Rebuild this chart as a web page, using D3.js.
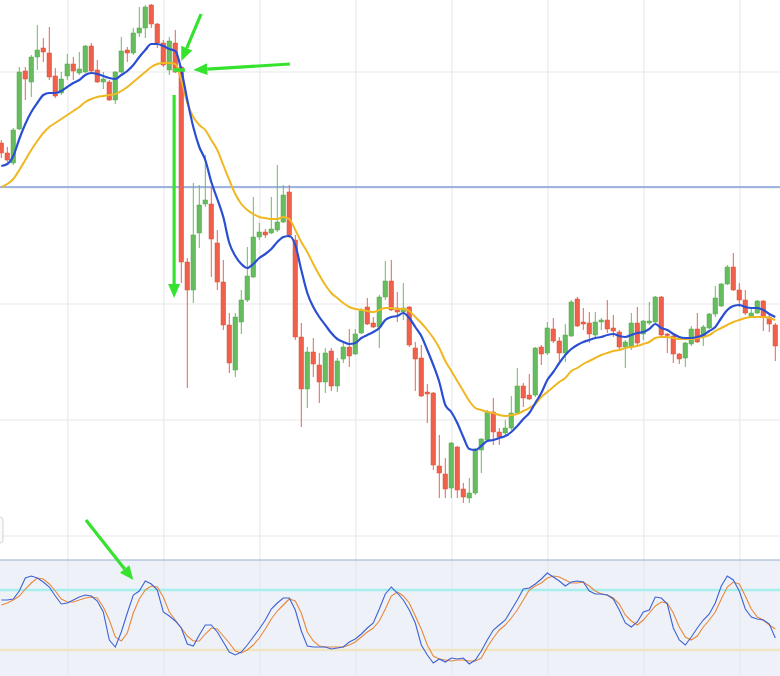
<!DOCTYPE html>
<html>
<head>
<meta charset="utf-8">
<title>Candles with moving averages and stochastic</title>
<script src="https://d3js.org/d3.v7.min.js"></script>
<style>
  body { margin: 0; background: #fff; }
  svg { display: block; }
</style>
</head>
<body>
<div id="chart"></div>
<script>
// price data, one entry per candle
const opens = [457,447,437,471,529,518,543,552,547,524,
  507,524,536,527,528,554,530,518,518,500,
  528,550,547,567,572,595,576,557,530,557,
  533,338,310,367,396,396,357,318,275,230,
  278,300,323,363,368,367,370,378,408,360,
  263,211,248,235,218,249,214,241,253,246,
  267,293,277,273,303,319,292,288,293,252,
  242,208,207,134,126,112,153,111,102,107,
  150,160,188,168,167,172,187,214,205,205,
  253,247,271,259,247,264,301,278,277,265,
  278,280,272,268,253,253,277,266,277,278,
  303,266,264,246,242,256,271,263,272,286,
  294,316,333,310,300,284,287,299,283,275];
const closes = [447,440,470,528,521,543,550,548,523,504,
  521,536,529,531,554,529,518,521,500,528,
  549,547,567,572,593,576,557,535,559,528,
  338,310,365,395,400,361,318,275,237,283,
  300,324,363,368,365,371,378,405,365,263,
  211,248,236,218,247,214,239,253,244,266,
  289,276,273,303,319,290,288,292,255,241,
  204,206,135,127,111,157,110,103,107,151,
  161,188,168,163,172,187,214,202,201,252,
  246,272,259,247,265,298,274,276,266,278,
  280,271,269,253,258,277,257,279,279,303,
  265,265,246,241,257,271,258,273,286,302,
  316,333,310,300,287,287,299,283,276,254];
const highs = [460,453,472,533,533,545,575,562,573,532,
  528,546,543,548,555,557,540,528,520,529,
  563,553,572,593,595,596,577,560,563,570,
  534,342,417,415,445,413,370,340,287,287,
  310,353,403,377,371,403,435,415,415,365,
  277,253,262,247,252,252,242,257,271,271,
  292,302,283,305,339,340,308,317,294,258,
  255,216,208,165,142,158,154,117,122,152,
  162,190,202,172,180,204,232,217,226,253,
  255,278,282,263,276,300,303,292,288,288,
  282,300,285,270,260,287,293,280,298,304,
  304,267,265,247,258,274,287,275,287,314,
  317,335,347,317,310,292,300,300,285,277];
const lows = [442,438,435,470,500,503,530,538,520,502,
  505,520,520,525,527,528,517,511,499,496,
  527,538,545,563,562,572,552,533,525,527,
  317,212,297,352,393,323,310,270,227,223,
  266,298,322,360,362,366,368,377,362,260,
  173,192,223,197,207,209,208,237,233,245,
  266,275,272,252,300,289,278,280,253,209,
  203,177,130,102,102,102,102,97,97,105,
  127,158,155,155,165,170,185,193,200,203,
  235,245,257,239,238,263,273,270,257,263,
  270,267,263,250,232,250,254,260,275,277,
  263,247,237,236,233,254,257,254,271,283,
  293,315,309,293,285,282,286,269,268,239];

// moving averages
const maFast = [434,436,444,461,476,488,497,505,507,507,
  509,513,517,520,525,527,526,524,522,521,
  525,529,535,543,550,556,556,554,551,549,
  530,500,473,453,440,418,401,383,357,344,
  336,332,336,342,346,351,358,363,364,355,
  330,307,293,283,275,267,261,258,256,257,
  262,265,268,272,280,283,284,287,282,273,
  264,250,235,218,195,188,177,163,151,150,
  154,159,160,162,164,168,174,181,187,197,
  207,220,228,237,245,251,255,258,260,262,
  263,265,266,264,263,265,267,268,271,276,
  272,270,266,263,262,262,263,265,269,273,
  282,290,294,295,293,292,292,290,286,283];
const maSlow = [413,416,421,430,440,450,459,467,473,477,
  481,485,489,493,498,501,503,504,505,506,
  509,513,518,523,528,533,536,537,537,536,
  520,497,483,475,470,460,450,435,420,406,
  396,390,386,383,382,381,381,383,381,370,
  358,348,336,325,315,307,302,297,293,291,
  290,289,288,290,292,292,291,291,289,283,
  277,270,262,252,239,229,219,209,199,192,
  190,188,187,185,184,185,186,189,192,196,
  203,208,213,218,222,229,232,236,239,242,
  245,247,249,250,252,253,254,256,258,262,
  263,263,262,261,261,261,262,263,265,269,
  272,275,278,280,282,283,283,283,282,280];

// stochastic oscillator %K and %D
const stochK = [70,70,71,79,92,94,92,88,83,74,
  66,67,70,73,75,74,69,58,30,23,
  38,57,75,79,89,86,80,58,54,49,
  42,26,24,35,45,45,38,28,18,15,
  18,25,33,41,50,61,67,72,72,60,
  39,24,23,23,23,21,22,23,28,31,
  36,42,47,61,76,83,77,70,60,47,
  25,15,7,11,8,12,11,12,6,10,
  19,30,40,45,50,60,70,81,82,86,
  91,97,93,89,84,88,89,88,79,76,
  76,75,71,60,47,43,48,58,60,73,
  72,66,42,30,25,33,42,50,56,67,
  84,94,90,79,61,53,51,50,46,32];
const stochD = [65,67,70,74,81,87,92,91,86,79,
  71,68,68,70,72,73,72,63,50,33,
  29,37,57,71,80,84,83,73,58,50,
  42,34,29,29,36,42,41,34,27,19,
  17,20,25,32,41,51,59,65,71,69,
  57,38,29,24,23,23,23,23,25,28,
  33,38,42,49,61,74,78,74,67,54,
  41,25,14,11,10,9,10,10,9,9,
  12,23,32,40,45,52,60,70,80,84,
  87,92,94,93,90,87,87,88,84,79,
  76,75,72,66,55,49,45,50,57,64,
  68,67,57,43,33,30,34,43,50,58,
  71,83,88,86,74,61,53,50,45,41];

const priceGrid = [528, 412, 296, 180, 64];
const timeGrid = [11.1, 27.1, 43.1, 59.1, 75.1, 91.1, 107.1, 123.1];
const levelPrice = 413;
const stochLevels = [80, 20];

// annotation arrows: [candle index, value]
const priceArrows = [
  { from: [33.3, 586], to: [30.0, 539] },
  { from: [48.1, 536], to: [32.0, 530] },
  { from: [28.8, 505], to: [28.8, 302] }
];
const stochArrows = [
  { from: [14.1, 150], to: [22.0, 90] }
];
const priceMarks = [
  { from: [28.6, 530], to: [30.6, 530] }
];

const W = 780, H = 676;
const svg = d3.select('#chart').append('svg').attr('width', W).attr('height', H);

const x = d3.scaleLinear().domain([0, 129]).range([1.3, 775.3]);
const y = d3.scaleLinear().domain([-76, 600]).range([H, 0]);
const yo = d3.scaleLinear().domain([0, 100]).range([670, 570]);

const idx = d3.range(opens.length);
const bodyW = 4.6;
const up = '#66bd5d', down = '#f0604a';
const upEdge = '#55a84d', downEdge = '#dc5038';
const arrowColor = '#35e32f';

// oscillator pane background
svg.append('rect')
  .attr('x', 0).attr('y', yo(110))
  .attr('width', W).attr('height', H - yo(110))
  .attr('fill', '#eef2f8');

// grid
svg.append('g').selectAll('line').data(priceGrid).join('line')
  .attr('x1', 0).attr('x2', W)
  .attr('y1', d => y(d)).attr('y2', d => y(d))
  .attr('stroke', '#e7e7e7').attr('stroke-width', 1);
svg.append('g').selectAll('line').data(timeGrid).join('line')
  .attr('x1', d => x(d)).attr('x2', d => x(d))
  .attr('y1', 0).attr('y2', H)
  .attr('stroke', '#e3e5ea').attr('stroke-width', 1);

svg.append('line')
  .attr('x1', 0).attr('x2', W)
  .attr('y1', yo(110)).attr('y2', yo(110))
  .attr('stroke', '#9aaecd').attr('stroke-width', 1.2);

// little label box peeking at the left edge
svg.append('rect')
  .attr('x', -10).attr('y', 517).attr('width', 13).attr('height', 26)
  .attr('rx', 3).attr('fill', '#fafafa').attr('stroke', '#d4d4d4');

// horizontal level
svg.append('line')
  .attr('x1', 0).attr('x2', W)
  .attr('y1', y(levelPrice)).attr('y2', y(levelPrice))
  .attr('stroke', '#7f9ed8').attr('stroke-width', 1.3);

// candles
const candles = svg.append('g').selectAll('g').data(idx).join('g');
candles.append('line')
  .attr('x1', i => x(i)).attr('x2', i => x(i))
  .attr('y1', i => y(highs[i])).attr('y2', i => y(lows[i]))
  .attr('stroke', i => closes[i] >= opens[i] ? up : down)
  .attr('stroke-width', 1);
candles.append('rect')
  .attr('x', i => x(i) - bodyW / 2)
  .attr('width', bodyW)
  .attr('y', i => y(Math.max(opens[i], closes[i])))
  .attr('height', i => Math.max(1.5, Math.abs(y(opens[i]) - y(closes[i]))))
  .attr('fill', i => closes[i] >= opens[i] ? up : down)
  .attr('stroke', i => closes[i] >= opens[i] ? upEdge : downEdge)
  .attr('stroke-width', 0.5);

// moving averages
const maLine = arr => d3.line().x(i => x(i)).y(i => y(arr[i])).curve(d3.curveMonotoneX)(idx);
svg.append('path').attr('d', maLine(maSlow))
  .attr('fill', 'none').attr('stroke', '#efb822').attr('stroke-width', 2);
svg.append('path').attr('d', maLine(maFast))
  .attr('fill', 'none').attr('stroke', '#2b4fd2').attr('stroke-width', 2.2);

// stochastic levels and lines
svg.append('g').selectAll('line').data(stochLevels).join('line')
  .attr('x1', 0).attr('x2', W)
  .attr('y1', d => yo(d)).attr('y2', d => yo(d))
  .attr('stroke', d => d > 50 ? '#a6efec' : '#efe5c2')
  .attr('stroke-width', 2.5);
const stLine = arr => d3.line().x(i => x(i)).y(i => yo(arr[i]))(idx);
svg.append('path').attr('d', stLine(stochD))
  .attr('fill', 'none').attr('stroke', '#e8883c').attr('stroke-width', 1.1);
svg.append('path').attr('d', stLine(stochK))
  .attr('fill', 'none').attr('stroke', '#3d62d4').attr('stroke-width', 1.1);

// arrows
function arrow(x1, y1, x2, y2) {
  const a = Math.atan2(y2 - y1, x2 - x1);
  const len = 14, half = 6;
  const bx = x2 - len * Math.cos(a), by = y2 - len * Math.sin(a);
  svg.append('line')
    .attr('x1', x1).attr('y1', y1).attr('x2', bx).attr('y2', by)
    .attr('stroke', arrowColor).attr('stroke-width', 3.2);
  svg.append('path')
    .attr('d', `M${x2},${y2}L${bx + half * Math.sin(a)},${by - half * Math.cos(a)}L${bx - half * Math.sin(a)},${by + half * Math.cos(a)}Z`)
    .attr('fill', arrowColor);
}
priceArrows.forEach(d => arrow(x(d.from[0]), y(d.from[1]), x(d.to[0]), y(d.to[1])));
stochArrows.forEach(d => arrow(x(d.from[0]), yo(d.from[1]), x(d.to[0]), yo(d.to[1])));
priceMarks.forEach(d => {
  svg.append('line')
    .attr('x1', x(d.from[0])).attr('y1', y(d.from[1]))
    .attr('x2', x(d.to[0])).attr('y2', y(d.to[1]))
    .attr('stroke', arrowColor).attr('stroke-width', 3.5);
});
</script>
</body>
</html>
